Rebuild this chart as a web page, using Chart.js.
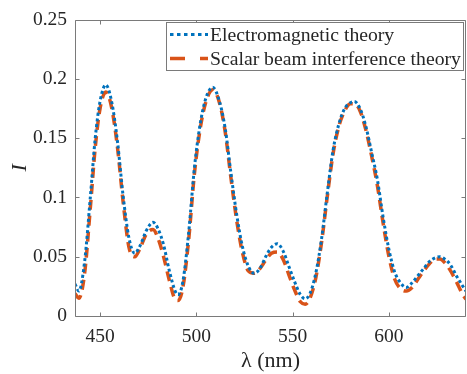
<!DOCTYPE html>
<html>
<head>
<meta charset="utf-8">
<script src="https://cdn.jsdelivr.net/npm/chart.js@4.4.1/dist/chart.umd.min.js"></script>
<style>
  html, body { margin: 0; padding: 0; background: #ffffff; }
  #wrap { width: 467px; height: 374px; }
</style>
</head>
<body>
<div id="wrap"><canvas id="c" width="467" height="374"></canvas></div>
<script>
const wavelengths = [437, 439, 442, 445, 447.5, 450, 453, 456, 459, 462, 465, 468, 471, 474, 477.5, 480, 483, 486, 489, 490.5, 493, 496, 499, 502, 505, 508.5, 512, 515, 518, 521, 524, 527, 530, 533, 536, 539, 542, 545, 548, 551, 554, 556.5, 559, 562, 565, 568, 571, 574, 577, 580, 582, 585, 588, 591, 594, 597, 600, 603, 606, 609, 612, 615, 618, 621, 624, 626.5, 629, 632, 635, 638, 640];
const emTheory = [0.027, 0.021, 0.046, 0.101, 0.150, 0.181, 0.195, 0.181, 0.148, 0.101, 0.066, 0.053, 0.060, 0.072, 0.079, 0.074, 0.060, 0.038, 0.021, 0.018, 0.029, 0.070, 0.125, 0.162, 0.184, 0.193, 0.181, 0.158, 0.120, 0.085, 0.058, 0.042, 0.036, 0.040, 0.050, 0.058, 0.061, 0.055, 0.042, 0.029, 0.018, 0.0145, 0.019, 0.036, 0.065, 0.104, 0.140, 0.162, 0.175, 0.180, 0.181, 0.175, 0.160, 0.138, 0.115, 0.083, 0.056, 0.037, 0.028, 0.024, 0.028, 0.034, 0.040, 0.046, 0.049, 0.050, 0.048, 0.043, 0.034, 0.026, 0.021];
const scalarTheory = [0.019, 0.015, 0.036, 0.092, 0.142, 0.175, 0.189, 0.176, 0.143, 0.096, 0.058, 0.050, 0.058, 0.069, 0.073, 0.066, 0.050, 0.030, 0.014, 0.013, 0.024, 0.064, 0.120, 0.158, 0.181, 0.191, 0.180, 0.155, 0.116, 0.080, 0.053, 0.038, 0.036, 0.040, 0.047, 0.053, 0.054, 0.048, 0.035, 0.022, 0.012, 0.010, 0.015, 0.032, 0.062, 0.101, 0.137, 0.160, 0.173, 0.179, 0.179, 0.173, 0.157, 0.135, 0.110, 0.078, 0.050, 0.031, 0.023, 0.021, 0.024, 0.031, 0.038, 0.044, 0.048, 0.048, 0.045, 0.038, 0.029, 0.019, 0.014];
const seriesLabels = ['Electromagnetic theory', 'Scalar beam interference theory'];
const xTickValues = [450, 500, 550, 600];
const xTickLabels = ['450', '500', '550', '600'];
const yTickValues = [0, 0.05, 0.1, 0.15, 0.2, 0.25];
const yTickLabels = ['0', '0.05', '0.1', '0.15', '0.2', '0.25'];
const xRange = [437, 640];
const yRange = [0, 0.25];

const FONT = '"Liberation Serif", "Times New Roman", serif';
const BLUE = '#0072BD';
const ORANGE = '#D95319';
const AXIS = '#7a7a7a';
const TEXT = '#262626';

const toPts = (ys) => wavelengths.map((x, i) => ({ x: x, y: ys[i] }));

const boxPlugin = {
  id: 'boxPlugin',
  afterDraw(chart) {
    const ctx = chart.ctx;
    const a = chart.chartArea;
    const xs = chart.scales.x, ys = chart.scales.y;
    ctx.save();
    ctx.strokeStyle = AXIS;
    ctx.lineWidth = 1;
    const L = Math.round(a.left) + 0.5, R = Math.round(a.right) - 0.5;
    const T = Math.round(a.top) + 0.5, B = Math.round(a.bottom) + 0.5;
    ctx.beginPath();
    ctx.rect(L, T, R - L, B - T);
    ctx.stroke();
    const tl = 4;
    ctx.beginPath();
    xTickValues.forEach(v => {
      const px = Math.round(xs.getPixelForValue(v)) + 0.5;
      ctx.moveTo(px, B); ctx.lineTo(px, B - tl);
      ctx.moveTo(px, T); ctx.lineTo(px, T + tl);
    });
    yTickValues.forEach(v => {
      const py = Math.round(ys.getPixelForValue(v)) + 0.5;
      ctx.moveTo(L, py); ctx.lineTo(L + tl, py);
      ctx.moveTo(R, py); ctx.lineTo(R - tl, py);
    });
    ctx.stroke();

    // legend
    const lx = 166.5, ly = 22.5, lw = 297, lh = 48;
    ctx.fillStyle = '#ffffff';
    ctx.fillRect(lx, ly, lw, lh);
    ctx.strokeStyle = AXIS;
    ctx.strokeRect(lx, ly, lw, lh);
    const rows = [ly + 12, ly + 36];
    const sets = chart.data.datasets;
    sets.forEach((ds, i) => {
      ctx.save();
      ctx.strokeStyle = ds.borderColor;
      ctx.lineWidth = ds.borderWidth;
      ctx.setLineDash(i === 0 ? [3.5, 3.5] : [15, 15]);
      ctx.beginPath();
      ctx.moveTo(170, rows[i]);
      ctx.lineTo(208, rows[i]);
      ctx.stroke();
      ctx.restore();
      ctx.fillStyle = TEXT;
      ctx.font = '19.7px ' + FONT;
      ctx.textBaseline = 'middle';
      ctx.textAlign = 'left';
      ctx.fillText(ds.label, 210, rows[i] + 1);
    });
    ctx.restore();
  }
};

new Chart(document.getElementById('c'), {
  type: 'line',
  data: {
    datasets: [
      {
        label: seriesLabels[0],
        data: toPts(emTheory),
        borderColor: BLUE,
        borderWidth: 3,
        borderDash: [3, 2.6],
        pointRadius: 0,
        fill: false,
        cubicInterpolationMode: 'monotone',
        order: 1
      },
      {
        label: seriesLabels[1],
        data: toPts(scalarTheory),
        borderColor: ORANGE,
        borderWidth: 3.5,
        borderDash: [10, 6],
        pointRadius: 0,
        fill: false,
        cubicInterpolationMode: 'monotone',
        order: 2
      }
    ]
  },
  options: {
    responsive: false,
    animation: false,
    devicePixelRatio: 1,
    layout: { padding: { left: 0, right: 1, top: 11, bottom: 0 } },
    plugins: { legend: { display: false }, tooltip: { enabled: false } },
    scales: {
      x: {
        type: 'linear',
        min: xRange[0], max: xRange[1],
        afterBuildTicks(s) { s.ticks = xTickValues.map(v => ({ value: v })); },
        afterFit(s) { s.height = 58; },
        grid: { display: false, drawTicks: false },
        border: { display: false },
        ticks: {
          color: TEXT, padding: 9, maxRotation: 0, autoSkip: false,
          font: { family: FONT, size: 19.5 },
          callback: (v) => xTickLabels[xTickValues.indexOf(v)] ?? ''
        },
        title: {
          display: true, text: 'λ (nm)', color: TEXT,
          font: { family: FONT, size: 22 }, padding: { top: 0, bottom: 0 }
        }
      },
      y: {
        type: 'linear',
        min: yRange[0], max: yRange[1],
        afterBuildTicks(s) { s.ticks = yTickValues.map(v => ({ value: v })); },
        afterFit(s) { s.width = 75; },
        grid: { display: false, drawTicks: false },
        border: { display: false },
        ticks: {
          color: TEXT, padding: 8, autoSkip: false,
          font: { family: FONT, size: 19.5 },
          callback: (v) => { const i = yTickValues.findIndex(t => Math.abs(t - v) < 1e-9); return i >= 0 ? yTickLabels[i] : ''; }
        },
        title: {
          display: true, text: 'I', color: TEXT,
          font: { family: FONT, size: 22, style: 'italic' }, padding: { top: 7, bottom: 0 }
        }
      }
    }
  },
  plugins: [boxPlugin]
});
</script>
</body>
</html>
